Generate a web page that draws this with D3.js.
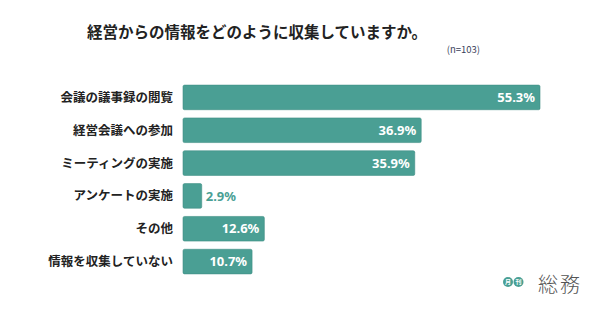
<!DOCTYPE html>
<html><head><meta charset="utf-8">
<script src="https://cdn.jsdelivr.net/npm/d3@7"></script>
<style>
body{margin:0;background:#fff;}
svg{display:block;font-family:"Noto Sans CJK JP","Noto Sans",sans-serif;}
</style></head>
<body>
<svg id="chart" width="590" height="332"></svg>
<script>
const categories = ["会議の議事録の閲覧","経営会議への参加","ミーティングの実施","アンケートの実施","その他","情報を収集していない"];
const values = [55.3, 36.9, 35.9, 2.9, 12.6, 10.7];
const title = "経営からの情報をどのように収集していますか。";
const note = "(n=103)";

const svg = d3.select("#chart");
const barColor = "#4a9f94";
const x = d3.scaleLinear().domain([0, 55.3]).range([183, 540]);
const y = d3.scaleBand().domain(categories).range([81, 278]).paddingInner(0.25).paddingOuter(0.125);

svg.append("text").attr("x", 257).attr("y", 38).attr("text-anchor", "middle")
  .attr("font-size", 15.5).attr("font-weight", 700).attr("fill", "#222").text(title);
svg.append("text").attr("x", 480).attr("y", 53).attr("text-anchor", "end")
  .attr("font-size", 9.5).attr("fill", "#3a3f5c").text(note);

const g = svg.append("g");
g.selectAll("rect").data(values).join("rect")
  .attr("x", x(0)).attr("y", (d,i)=>y(categories[i]))
  .attr("width", d=>x(d)-x(0)).attr("height", y.bandwidth())
  .attr("rx", 1.5).attr("fill", barColor).attr("stroke", "#3f8f85").attr("stroke-width", 0.6);

g.selectAll("text.cat").data(categories).join("text").attr("class","cat")
  .attr("x", 173).attr("y", d=>y(d)+y.bandwidth()/2).attr("dy","0.36em")
  .attr("text-anchor","end").attr("font-size", 12.5).attr("font-weight", 700).attr("fill","#222")
  .text(d=>d);

g.selectAll("text.val").data(values).join("text").attr("class","val")
  .attr("x", d=> d < 5 ? x(d)+4 : x(d)-5)
  .attr("y", (d,i)=>y(categories[i])+y.bandwidth()/2).attr("dy","0.36em")
  .attr("text-anchor", d=> d < 5 ? "start" : "end")
  .attr("font-family", "'Noto Sans',sans-serif")
  .attr("font-size", 13).attr("font-weight", 700)
  .attr("fill", d=> d < 5 ? barColor : "#fff")
  .text(d=>d.toFixed(1)+"%");

// logo
const logo = svg.append("g");
[["月",508],["刊",518.5]].forEach(([t,cx])=>{
  logo.append("circle").attr("cx",cx).attr("cy",282).attr("r",5).attr("fill",barColor);
  logo.append("text").attr("x",cx).attr("y",282).attr("dy","0.35em").attr("text-anchor","middle")
    .attr("font-size",6).attr("font-weight",700).attr("fill","#fff").text(t);
});
logo.append("text").attr("x",538).attr("y",292).attr("font-size",20).attr("font-weight",300)
  .attr("fill","#555").attr("textLength",42).text("総務");
</script>
</body></html>
